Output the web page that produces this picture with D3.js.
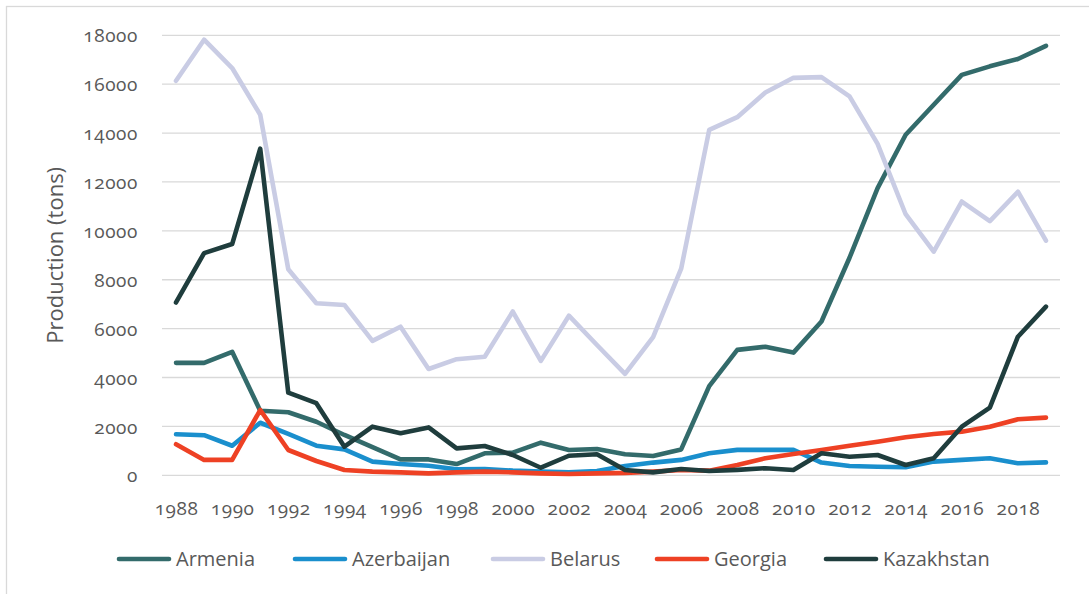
<!DOCTYPE html>
<html lang="en">
<head>
<meta charset="utf-8">
<script src="https://d3js.org/d3.v7.min.js"></script>
<style>
body { margin: 0; background: #fff; }
svg text {
    font-family: "Open Sans", Lato, sans-serif;
    fill: #595959;
    font-variant-numeric: oldstyle-nums;
}
.grid line { stroke: #d9d9d9; stroke-width: 1.3; }
.series { fill: none; stroke-width: 4.6; stroke-linejoin: round; stroke-linecap: round; }
</style>
</head>
<body>
<svg id="chart" width="1089" height="594"></svg>
<script>
// years on the x axis
var years = d3.range(1988, 2020);
var yTicks = [0, 2000, 4000, 6000, 8000, 10000, 12000, 14000, 16000, 18000];
var xTickYears = years.filter(function(y) { return y % 2 === 0; });

var countries = ["Armenia", "Azerbaijan", "Belarus", "Georgia", "Kazakhstan"];
var colors = ["#336b6b", "#1a8fcd", "#c9cce4", "#ee4124", "#1f3d3d"];

// production in tons
var armenia = [4600, 4600, 5050, 2640, 2580, 2190, 1650, 1150, 650, 650, 460, 900, 925, 1335, 1035, 1075,
               860, 790, 1060, 3650, 5130, 5260, 5020, 6290, 8900, 11750, 13930, 15160, 16380, 16730, 17030, 17570];
var azerbaijan = [1680, 1640, 1210, 2150, 1690, 1210, 1060, 560, 460, 390, 245, 260, 190, 150, 120, 175,
                  380, 520, 630, 900, 1040, 1040, 1040, 520, 380, 350, 330, 560, 630, 700, 490, 530];
var belarus = [16140, 17820, 16660, 14750, 8430, 7040, 6970, 5500, 6080, 4350, 4750, 4850, 6700, 4680, 6530, 5330,
               4150, 5650, 8450, 14130, 14650, 15660, 16260, 16290, 15500, 13560, 10680, 9150, 11200, 10400, 11600, 9600];
var georgia = [1270, 630, 630, 2670, 1035, 585, 215, 150, 120, 80, 120, 150, 120, 80, 55, 80,
               100, 150, 215, 190, 420, 700, 870, 1035, 1210, 1375, 1555, 1690, 1785, 1990, 2290, 2360];
var kazakhstan = [7070, 9090, 9460, 13360, 3380, 2950, 1170, 1990, 1720, 1960, 1100, 1200, 830, 310, 800, 860,
                  220, 120, 260, 175, 220, 290, 220, 900, 760, 830, 420, 700, 1990, 2770, 5670, 6900];

var seriesValues = [armenia, azerbaijan, belarus, georgia, kazakhstan];

var svg = d3.select("#chart");

// chart area border
svg.append("rect")
    .attr("x", 6.5).attr("y", 6.5)
    .attr("width", 1100).attr("height", 600)
    .attr("fill", "none")
    .attr("stroke", "#d9d9d9")
    .attr("stroke-width", 1.3);

var plot = { left: 162, right: 1060, top: 35.3, bottom: 475.3 };

var x = d3.scalePoint()
    .domain(years)
    .range([plot.left, plot.right])
    .padding(0.5);

var y = d3.scaleLinear()
    .domain([0, 18000])
    .range([plot.bottom, plot.top]);

// horizontal gridlines
svg.append("g")
    .attr("class", "grid")
    .selectAll("line")
    .data(yTicks)
    .enter()
    .append("line")
    .attr("x1", plot.left).attr("x2", plot.right)
    .attr("y1", function(d) { return y(d); })
    .attr("y2", function(d) { return y(d); });

// y axis labels
var yAxis = d3.axisLeft(y).tickValues(yTicks).tickSize(0).tickPadding(0).tickFormat(d3.format("d"));
var yG = svg.append("g")
    .attr("transform", "translate(138,0)")
    .call(yAxis);
yG.select(".domain").remove();
yG.selectAll("text")
    .style("font-size", "19px")
    .style("letter-spacing", "0.6px")
    .attr("fill", "#595959")
    .attr("dy", "0.35em");

// x axis labels
var xAxis = d3.axisBottom(x).tickValues(xTickYears).tickSize(0).tickPadding(0);
var xG = svg.append("g")
    .attr("transform", "translate(0,500)")
    .call(xAxis);
xG.select(".domain").remove();
xG.selectAll("text")
    .style("font-size", "19px")
    .style("letter-spacing", "0.6px")
    .attr("fill", "#595959")
    .attr("dy", "0.35em")
    .attr("y", 8);

// y axis title
svg.append("text")
    .attr("transform", "translate(63," + ((plot.top + plot.bottom) / 2) + ") rotate(-90)")
    .attr("text-anchor", "middle")
    .style("font-size", "22px")
    .text("Production (tons)");

// lines
var line = d3.line()
    .x(function(d, i) { return x(years[i]); })
    .y(function(d) { return y(d); });

svg.selectAll(".series")
    .data(seriesValues)
    .enter()
    .append("path")
    .attr("class", "series")
    .attr("stroke", function(d, i) { return colors[i]; })
    .attr("d", line);

// legend
var legendX = [117, 293, 491, 655, 824];
var legend = svg.selectAll(".legend")
    .data(countries)
    .enter()
    .append("g")
    .attr("class", "legend")
    .attr("transform", function(d, i) { return "translate(" + legendX[i] + ",559)"; });

legend.append("line")
    .attr("x1", 2).attr("x2", 52)
    .attr("y1", 0).attr("y2", 0)
    .attr("stroke", function(d, i) { return colors[i]; })
    .attr("stroke-width", 4.6)
    .attr("stroke-linecap", "round");

legend.append("text")
    .attr("x", 59)
    .attr("dy", "0.35em")
    .style("font-size", "20px")
    .text(function(d) { return d; });
</script>
</body>
</html>
